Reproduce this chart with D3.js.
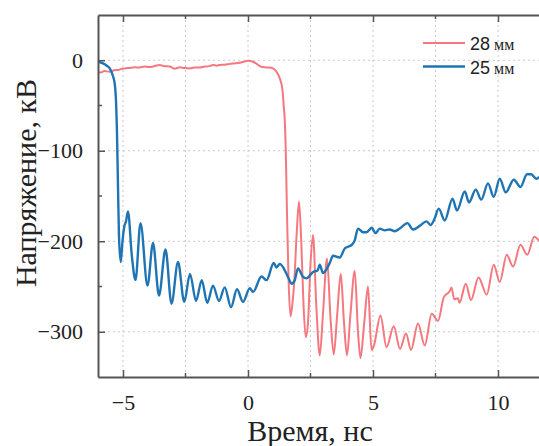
<!DOCTYPE html>
<html>
<head>
<meta charset="utf-8">
<script src="https://cdn.jsdelivr.net/npm/d3@7"></script>
<style>
	body { margin: 0; background: #fff; }
	svg { display: block; }
	svg text.serif, svg tspan.serif { font-family: "Liberation Serif", Tinos, "Noto Serif", "DejaVu Serif", FreeSerif, Times, serif; }
	svg tspan.sans { font-family: "Liberation Sans", Arial, sans-serif; }
</style>
</head>
<body>
<svg id="chart" width="539" height="446"></svg>
<script>
// 28 мм
const red28 = [
	[-6,-12.6],[-5.9,-13.5],[-5.75,-12],[-5.53,-12.6],[-5.35,-11],[-5.2,-10.8],[-5.05,-9.5],[-4.93,-9],
	[-4.75,-8.5],[-4.53,-7.8],[-4.35,-8],[-4.13,-7],[-3.95,-7.5],[-3.73,-6.4],[-3.53,-5.2],[-3.35,-6.5],
	[-3.13,-7],[-2.93,-9.3],[-2.73,-7.8],[-2.55,-8.5],[-2.33,-9],[-2.15,-8],[-1.93,-8],[-1.73,-7],
	[-1.55,-6.5],[-1.4,-5.2],[-1.25,-6],[-1.13,-5.2],[-0.93,-5],[-0.73,-4],[-0.55,-3.5],[-0.33,-2.7],
	[-0.15,-1.5],[0,-0.5],[0.2,-1.6],[0.35,-4],[0.47,-6.4],[0.67,-7.8],[0.85,-8],[1.0,-9],
	[1.14,-12.6],[1.27,-20],[1.38,-33],[1.43,-51],[1.47,-66],[1.51,-99],[1.56,-170],[1.62,-240],
	[1.7,-283],[1.78,-268],[1.85,-245],[1.95,-190],[2.04,-156],[2.13,-200],[2.22,-270],[2.31,-306],
	[2.4,-290],[2.5,-225],[2.6,-193],[2.73,-270],[2.87,-326],[3.0,-280],[3.16,-219],[3.3,-285],
	[3.43,-325],[3.57,-280],[3.71,-236],[3.84,-290],[3.96,-326],[4.1,-280],[4.27,-233],[4.4,-300],
	[4.5,-329],[4.65,-290],[4.8,-250],[4.94,-320],[5.03,-316],[5.3,-282],[5.54,-317],[5.83,-294],
	[6.08,-319],[6.32,-302],[6.52,-320],[6.8,-291],[7.07,-315],[7.35,-280],[7.6,-288],[7.83,-262],
	[8.07,-255],[8.14,-251],[8.25,-264],[8.4,-263],[8.46,-268],[8.71,-247],[8.92,-265],[9.22,-240],
	[9.55,-259],[9.83,-226],[10.07,-245],[10.35,-215],[10.6,-228],[10.9,-204],[11.17,-215],[11.45,-195],
	[11.65,-200]
];

// 25 мм
const blue25 = [
	[-6,-1.5],[-5.8,-3.5],[-5.65,-6],[-5.53,-9],[-5.42,-16],[-5.33,-26],[-5.28,-45],[-5.24,-81],
	[-5.2,-140],[-5.16,-195],[-5.09,-223],[-5.02,-200],[-4.95,-184],[-4.88,-178],[-4.8,-167],[-4.65,-215],
	[-4.5,-243],[-4.3,-180],[-4.02,-249],[-3.8,-202],[-3.56,-260],[-3.3,-209],[-3.06,-269],[-2.8,-223],
	[-2.55,-267],[-2.32,-236],[-2.08,-266],[-1.85,-243],[-1.63,-268],[-1.4,-249],[-1.16,-266],[-0.93,-251],
	[-0.68,-273],[-0.44,-253],[-0.2,-267],[0.07,-252],[0.2,-256],[0.54,-239],[0.74,-243],[1.03,-224],
	[1.14,-229],[1.27,-225],[1.45,-231],[1.64,-242],[1.74,-247],[1.87,-243],[2.0,-230],[2.19,-239],
	[2.34,-241],[2.6,-234],[2.79,-232],[2.87,-226],[3.0,-235],[3.27,-224],[3.4,-216],[3.67,-218],
	[3.87,-208],[4.15,-204],[4.27,-199],[4.4,-186],[4.6,-190],[4.74,-190],[4.95,-185],[5.1,-191],
	[5.27,-186],[5.47,-188],[5.67,-187],[5.87,-189],[6.07,-186],[6.38,-180],[6.6,-187],[6.87,-183],
	[7.14,-178],[7.3,-182],[7.45,-176],[7.63,-164],[7.87,-177],[8.18,-153],[8.36,-166],[8.67,-145],
	[8.84,-157],[9.11,-143],[9.33,-154],[9.6,-136],[9.83,-151],[10.07,-131],[10.31,-146],[10.63,-132],
	[10.9,-140],[11.16,-126],[11.33,-126],[11.53,-131],[11.65,-129]
];

const xMajor = [-5, 0, 5, 10];
const xMinor = [-2.5, 2.5, 7.5];
const yMajor = [-300, -200, -100, 0];
const yMinor = [-250, -150, -50];
const seriesNames = ["28", "25"];
const unitLabel = "мм";
const xTitle = "Время, нс";
const yTitle = "Напряжение, кВ";

const svg = d3.select("#chart");
const plotLeft = 98, plotTop = 15, plotBottom = 377, plotRight = 548;

const x = d3.scaleLinear().domain([-6, 12]).range([plotLeft, plotRight]);
const y = d3.scaleLinear().domain([-350, 50]).range([plotBottom, plotTop]);

// grid
const grid = svg.append("g")
	.attr("stroke", "#c8c8c8")
	.attr("stroke-width", 1)
	.attr("stroke-dasharray", "2,3");
grid.selectAll("line.v")
	.data(xMajor.concat(xMinor))
	.enter().append("line")
	.attr("x1", d => x(d)).attr("x2", d => x(d))
	.attr("y1", plotTop).attr("y2", plotBottom);
grid.selectAll("line.h")
	.data(yMajor)
	.enter().append("line")
	.attr("x1", plotLeft).attr("x2", plotRight)
	.attr("y1", d => y(d)).attr("y2", d => y(d));

// series
const line = d3.line()
	.x(d => x(d[0]))
	.y(d => y(d[1]))
	.curve(d3.curveMonotoneX);

svg.append("path")
	.datum(red28)
	.attr("fill", "none")
	.attr("stroke", "#f4787e")
	.attr("stroke-width", 2)
	.attr("d", line);

svg.append("path")
	.datum(blue25)
	.attr("fill", "none")
	.attr("stroke", "#1f74b3")
	.attr("stroke-width", 2.4)
	.attr("d", line);

// axes: ticks pointing inward
function styleAxis(g) {
	g.attr("font-family", null).attr("font-size", null);
	g.select(".domain").attr("stroke", "#555").attr("stroke-width", 2);
	g.selectAll(".tick line").attr("stroke", "#555").attr("stroke-width", 1.5);
	g.selectAll(".tick text")
		.attr("class", "serif")
		.attr("fill", "#222")
		.attr("font-size", 22);
}

const xAxisB = d3.axisBottom(x).tickValues(xMajor).tickSizeInner(-7).tickSizeOuter(0).tickPadding(17)
	.tickFormat(d3.format("d"));
svg.append("g").attr("transform", `translate(0,${plotBottom})`).call(xAxisB).call(styleAxis);

const xAxisT = d3.axisTop(x).tickValues(xMajor).tickSizeInner(-7).tickSizeOuter(0).tickFormat("");
svg.append("g").attr("transform", `translate(0,${plotTop})`).call(xAxisT).call(styleAxis);

const yAxis = d3.axisLeft(y).tickValues(yMajor).tickSizeInner(-7).tickSizeOuter(0).tickPadding(15)
	.tickFormat(d3.format("d"));
svg.append("g").attr("transform", `translate(${plotLeft},0)`).call(yAxis).call(styleAxis);

// minor ticks
const minor = svg.append("g").attr("stroke", "#555").attr("stroke-width", 1.5);
xMinor.forEach(function(v) {
	minor.append("line").attr("x1", x(v)).attr("x2", x(v)).attr("y1", plotBottom).attr("y2", plotBottom - 4);
	minor.append("line").attr("x1", x(v)).attr("x2", x(v)).attr("y1", plotTop).attr("y2", plotTop + 4);
});
yMinor.forEach(function(v) {
	minor.append("line").attr("x1", plotLeft).attr("x2", plotLeft + 4).attr("y1", y(v)).attr("y2", y(v));
});

// titles
svg.append("text")
	.attr("class", "serif")
	.attr("x", 310).attr("y", 441)
	.attr("text-anchor", "middle")
	.attr("fill", "#222")
	.attr("font-size", 30)
	.text(xTitle);

svg.append("text")
	.attr("class", "serif")
	.attr("transform", "translate(36,183) rotate(-90)")
	.attr("text-anchor", "middle")
	.attr("fill", "#222")
	.attr("font-size", 30)
	.text(yTitle);

// legend
const legendColors = ["#f4787e", "#1f74b3"];
const legend = svg.append("g");
seriesNames.forEach(function(name, i) {
	const ly = 43 + i * 23.5;
	legend.append("line")
		.attr("x1", 423).attr("x2", 465)
		.attr("y1", ly).attr("y2", ly)
		.attr("stroke", legendColors[i])
		.attr("stroke-width", i === 0 ? 2 : 2.4);
	const t = legend.append("text")
		.attr("x", 470).attr("y", ly + 7)
		.attr("fill", "#222");
	t.append("tspan").attr("class", "sans").attr("font-size", 18).text(name);
	t.append("tspan").attr("class", "serif").attr("dx", 4).attr("font-size", 16).text(unitLabel);
});
</script>
</body>
</html>
